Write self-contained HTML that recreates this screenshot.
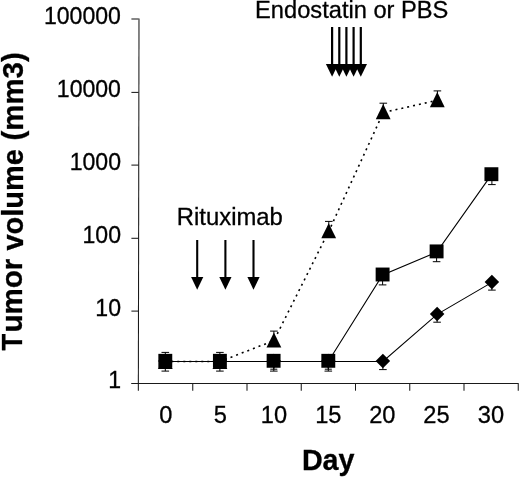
<!DOCTYPE html>
<html><head><meta charset="utf-8"><title>chart</title>
<style>
html,body{margin:0;padding:0;background:#fff;}
body{width:520px;height:477px;overflow:hidden;}
svg{display:block;will-change:transform;}
text{font-family:"Liberation Sans",sans-serif;fill:#000;stroke:#000;stroke-width:0.3px;}
.b{font-weight:bold;}
</style></head><body>
<svg width="520" height="477" viewBox="0 0 520 477">
<rect width="520" height="477" fill="#fff"/>
<g stroke="#1a1a1a" stroke-width="1.05" fill="none">
<line x1="139.0" y1="18.5" x2="138.35" y2="390.7"/>
<line x1="131.2" y1="383.5" x2="518.6" y2="383.5"/>
<line x1="131.4" y1="19.00" x2="138.6" y2="19.00"/>
<line x1="131.4" y1="92.40" x2="138.6" y2="92.40"/>
<line x1="131.4" y1="165.10" x2="138.6" y2="165.10"/>
<line x1="131.4" y1="238.30" x2="138.6" y2="238.30"/>
<line x1="131.4" y1="311.10" x2="138.6" y2="311.10"/>
<line x1="192.75" y1="383.5" x2="192.75" y2="390.7"/>
<line x1="247.00" y1="383.5" x2="247.00" y2="390.7"/>
<line x1="301.25" y1="383.5" x2="301.25" y2="390.7"/>
<line x1="355.50" y1="383.5" x2="355.50" y2="390.7"/>
<line x1="409.75" y1="383.5" x2="409.75" y2="390.7"/>
<line x1="464.00" y1="383.5" x2="464.00" y2="390.7"/>
<line x1="518.25" y1="383.5" x2="518.25" y2="390.7"/>
</g>
<text font-size="24" transform="translate(43.96,23.50) scale(0.9620,1)">100000</text>
<text font-size="24" transform="translate(56.80,96.90) scale(0.9620,1)">10000</text>
<text font-size="24" transform="translate(69.64,169.60) scale(0.9620,1)">1000</text>
<text font-size="24" transform="translate(82.49,242.80) scale(0.9620,1)">100</text>
<text font-size="24" transform="translate(95.33,315.60) scale(0.9620,1)">10</text>
<text font-size="24" transform="translate(108.36,388.10) scale(0.9620,1)">1</text>
<text font-size="24" transform="translate(159.13,422.60) scale(0.9850,1)">0</text>
<text font-size="24" transform="translate(213.75,422.60) scale(0.9850,1)">5</text>
<text font-size="24" transform="translate(260.81,422.60) scale(0.9850,1)">10</text>
<text font-size="24" transform="translate(315.13,422.60) scale(0.9850,1)">15</text>
<text font-size="24" transform="translate(369.13,422.60) scale(0.9850,1)">20</text>
<text font-size="24" transform="translate(423.25,422.60) scale(0.9850,1)">25</text>
<text font-size="24" transform="translate(477.87,422.60) scale(0.9850,1)">30</text>
<text class="b" font-size="29.5" transform="translate(301.90,469.50) scale(0.9731,1)">Day</text>
<text class="b" font-size="29.5" transform="translate(22.2,350.52) rotate(-90) scale(0.9280,1)">T</text>
<text class="b" font-size="29.5" transform="translate(22.2,332.55) rotate(-90) scale(1.0021,1)">umor</text>
<text class="b" font-size="29.5" transform="translate(22.5,250.50) rotate(-90) scale(0.9829,1)">volume</text>
<text class="b" font-size="29.5" transform="translate(22.9,140.44) rotate(-90) scale(0.9965,1)">(mm3)</text>
<text font-size="24" transform="translate(255.08,18.00) scale(0.9858,1)">Endostatin or PBS</text>
<text font-size="24" transform="translate(176.86,225.00) scale(0.9937,1)">Rituximab</text>
<line x1="197.2" y1="240" x2="197.2" y2="278" stroke="#000" stroke-width="2.1"/>
<polygon points="191.1,277 203.29999999999998,277 197.2,289.8" fill="#000"/>
<line x1="225.4" y1="240" x2="225.4" y2="278" stroke="#000" stroke-width="2.1"/>
<polygon points="219.3,277 231.5,277 225.4,289.8" fill="#000"/>
<line x1="253.5" y1="240" x2="253.5" y2="278" stroke="#000" stroke-width="2.1"/>
<polygon points="247.4,277 259.6,277 253.5,289.8" fill="#000"/>
<line x1="332.1" y1="27" x2="332.1" y2="65" stroke="#000" stroke-width="2.2"/>
<polygon points="325.90000000000003,64 338.3,64 332.1,76.8" fill="#000"/>
<line x1="339.3" y1="27" x2="339.3" y2="65" stroke="#000" stroke-width="2.2"/>
<polygon points="333.1,64 345.5,64 339.3,76.8" fill="#000"/>
<line x1="346.40000000000003" y1="27" x2="346.40000000000003" y2="65" stroke="#000" stroke-width="2.2"/>
<polygon points="340.20000000000005,64 352.6,64 346.40000000000003,76.8" fill="#000"/>
<line x1="353.6" y1="27" x2="353.6" y2="65" stroke="#000" stroke-width="2.2"/>
<polygon points="347.40000000000003,64 359.8,64 353.6,76.8" fill="#000"/>
<line x1="360.8" y1="27" x2="360.8" y2="65" stroke="#000" stroke-width="2.2"/>
<polygon points="354.6,64 367.0,64 360.8,76.8" fill="#000"/>
<polyline points="328.3,361.5 382.9,361.5 437.1,314.4 491.9,282.4" fill="none" stroke="#000" stroke-width="1.1"/>
<polyline points="165.3,361.5 219.9,361.5 273.8,361.5 328.3,361.5 382.6,275.0 436.6,252.2 491.4,174.9" fill="none" stroke="#000" stroke-width="1.1"/>
<polyline points="165.3,361.5 219.9,361.5 273.9,340.6 328.8,231.2 383.3,112.5 437.4,100.3" fill="none" stroke="#000" stroke-width="1.6" stroke-dasharray="2 4"/>
<path d="M165.3,361.5V352.4M161.5,352.4H169.1" stroke="#000" stroke-width="1.0" fill="none"/>
<path d="M165.3,361.5V371.1M161.5,371.1H169.1" stroke="#000" stroke-width="1.0" fill="none"/>
<path d="M219.9,361.5V352.4M216.1,352.4H223.7" stroke="#000" stroke-width="1.0" fill="none"/>
<path d="M219.9,361.5V371.1M216.1,371.1H223.7" stroke="#000" stroke-width="1.0" fill="none"/>
<path d="M273.8,361.5V371.1M270.0,371.1H277.6" stroke="#000" stroke-width="1.0" fill="none"/>
<path d="M273.8,361.5V369.2M270.3,369.2H277.3" stroke="#000" stroke-width="1.0" fill="none"/>
<path d="M328.3,361.5V371.1M324.5,371.1H332.1" stroke="#000" stroke-width="1.0" fill="none"/>
<path d="M328.3,361.5V369.2M324.8,369.2H331.8" stroke="#000" stroke-width="1.0" fill="none"/>
<path d="M382.9,361.0V369.6M379.1,369.6H386.7" stroke="#000" stroke-width="1.0" fill="none"/>
<path d="M437.1,314.0V322.2M433.3,322.2H440.9" stroke="#000" stroke-width="1.0" fill="none"/>
<path d="M491.9,282.0V290.1M488.1,290.1H495.7" stroke="#000" stroke-width="1.0" fill="none"/>
<path d="M382.6,274.5V284.9M378.8,284.9H386.4" stroke="#000" stroke-width="1.0" fill="none"/>
<path d="M436.6,251.5V261.7M432.8,261.7H440.4" stroke="#000" stroke-width="1.0" fill="none"/>
<path d="M491.9,174.2V184.6M488.1,184.6H495.7" stroke="#000" stroke-width="1.0" fill="none"/>
<path d="M273.9,340.0V331.1M270.1,331.1H277.7" stroke="#000" stroke-width="1.0" fill="none"/>
<path d="M328.8,230.5V221.4M325.0,221.4H332.6" stroke="#000" stroke-width="1.0" fill="none"/>
<path d="M383.3,111.3V103.2M379.5,103.2H387.1" stroke="#000" stroke-width="1.0" fill="none"/>
<path d="M437.4,99.3V90.9M433.6,90.9H441.2" stroke="#000" stroke-width="1.0" fill="none"/>
<polygon points="158.05,361.10 165.30,353.85 172.55,361.10 165.30,368.35" fill="#000"/>
<polygon points="212.65,361.10 219.90,353.85 227.15,361.10 219.90,368.35" fill="#000"/>
<polygon points="266.55,361.10 273.80,353.85 281.05,361.10 273.80,368.35" fill="#000"/>
<polygon points="321.05,361.10 328.30,353.85 335.55,361.10 328.30,368.35" fill="#000"/>
<polygon points="375.65,361.05 382.90,353.80 390.15,361.05 382.90,368.30" fill="#000"/>
<polygon points="429.85,314.00 437.10,306.75 444.35,314.00 437.10,321.25" fill="#000"/>
<polygon points="484.65,282.00 491.90,274.75 499.15,282.00 491.90,289.25" fill="#000"/>
<polygon points="157.90,369.05 172.70,369.05 165.30,353.95" fill="#000"/>
<polygon points="212.50,369.05 227.30,369.05 219.90,353.95" fill="#000"/>
<polygon points="266.50,347.60 281.30,347.60 273.90,332.50" fill="#000"/>
<polygon points="321.30,238.25 336.10,238.25 328.70,223.15" fill="#000"/>
<polygon points="375.80,119.15 390.60,119.15 383.20,104.05" fill="#000"/>
<polygon points="429.90,107.15 444.70,107.15 437.30,92.05" fill="#000"/>
<rect x="158.35" y="353.85" width="13.9" height="13.9" fill="#000"/>
<rect x="212.95" y="353.85" width="13.9" height="13.9" fill="#000"/>
<rect x="266.65" y="353.85" width="13.9" height="13.9" fill="#000"/>
<rect x="321.35" y="353.85" width="13.9" height="13.9" fill="#000"/>
<rect x="375.65" y="267.55" width="13.9" height="13.9" fill="#000"/>
<rect x="429.65" y="244.45" width="13.9" height="13.9" fill="#000"/>
<rect x="484.45" y="167.25" width="13.9" height="13.9" fill="#000"/>
</svg>
</body></html>
